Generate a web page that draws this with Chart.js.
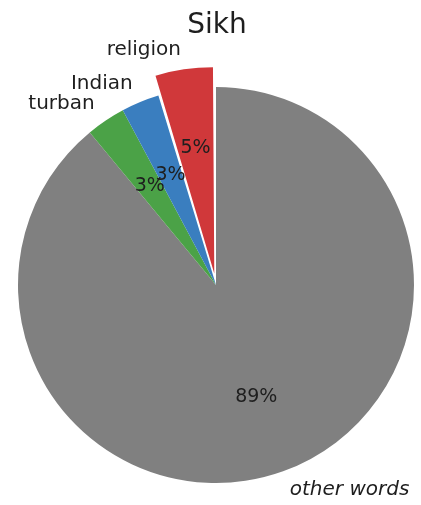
<!DOCTYPE html>
<html>
<head>
<meta charset="utf-8">
<script src="https://cdn.jsdelivr.net/npm/chart.js@4/dist/chart.umd.min.js"></script>
<style>
  html, body { margin: 0; padding: 0; background: #fff; overflow: hidden; }
  #pie { display: block; }
</style>
</head>
<body>
<canvas id="pie" width="421" height="505"></canvas>
<script>
// word shares, listed clockwise from 12 o'clock
const categories = ["other words", "turban", "Indian", "religion"];
const shares = [89.0, 3.2, 3.1, 4.7];
const sliceColors = ["#808080", "#4ba247", "#3a7ebf", "#d0383a"];
const explode = [0, 0, 0, 20]; // px the slice is pulled out
const chartTitle = "Sikh";

const FONT = "'DejaVu Sans', 'Liberation Sans', sans-serif";
const total = shares.reduce((a, b) => a + b, 0);

// ArcElement only moves offset/4 * (2 - sin(sweep)), so scale it back up
const arcOffsets = explode.map((px, i) => {
  const sweep = shares[i] / total * 2 * Math.PI;
  const fix = 1 - Math.sin(Math.min(Math.PI, sweep));
  return px * 4 / (1 + fix);
});

// names outside the pie, percentages inside, title on top
const pieText = {
  id: "pieText",
  afterDraw(chart) {
    const ctx = chart.ctx;
    const arcs = chart.getDatasetMeta(0).data;
    ctx.save();
    ctx.fillStyle = "#1e1e1e";
    ctx.textBaseline = "middle";

    arcs.forEach((arc, i) => {
      const { x, y, startAngle, endAngle, outerRadius } = arc.getProps(
        ["x", "y", "startAngle", "endAngle", "outerRadius"], true);
      const mid = (startAngle + endAngle) / 2;
      const cx = x + explode[i] * Math.cos(mid);
      const cy = y + explode[i] * Math.sin(mid);

      // category name at 1.1 radius
      const lx = cx + 1.1 * outerRadius * Math.cos(mid);
      const ly = cy + 1.1 * outerRadius * Math.sin(mid);
      ctx.font = (i === 0 ? "italic " : "") + "20px " + FONT;
      ctx.textAlign = lx > x ? "left" : "right";
      ctx.fillText(categories[i], lx, ly);

      // percentage at 0.6 radius
      const px = cx + 0.6 * outerRadius * Math.cos(mid);
      const py = cy + 0.6 * outerRadius * Math.sin(mid);
      ctx.font = "19px " + FONT;
      ctx.textAlign = "center";
      ctx.fillText(Math.round(shares[i] / total * 100) + "%", px, py);
    });

    ctx.font = "28px " + FONT;
    ctx.textAlign = "center";
    ctx.fillText(chartTitle, 217, 26);
    ctx.restore();
  }
};

new Chart(document.getElementById("pie"), {
  type: "pie",
  data: {
    labels: categories,
    datasets: [{
      data: shares,
      backgroundColor: sliceColors,
      offset: arcOffsets,
      borderWidth: 0,
      hoverBorderWidth: 0,
      hoverOffset: 0
    }]
  },
  options: {
    responsive: false,
    animation: false,
    events: [],
    radius: 198,
    rotation: 0,
    layout: { padding: { left: 11, right: 0, top: 65, bottom: 0 } },
    plugins: {
      legend: { display: false },
      tooltip: { enabled: false },
      title: { display: false }
    }
  },
  plugins: [pieText]
});
</script>
</body>
</html>
